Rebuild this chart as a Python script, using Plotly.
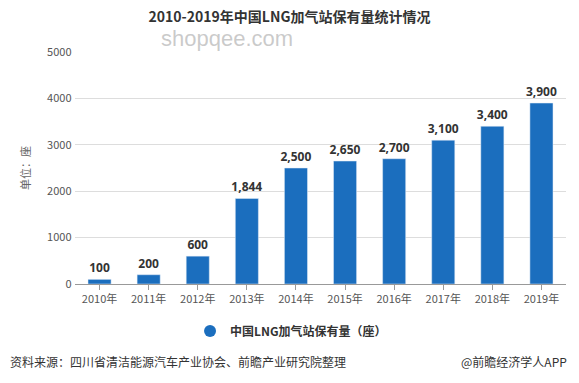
import plotly.graph_objects as go

years = ["2010年", "2011年", "2012年", "2013年", "2014年", "2015年", "2016年", "2017年", "2018年", "2019年"]
stations = [100, 200, 600, 1844, 2500, 2650, 2700, 3100, 3400, 3900]
series_name = "<b>中国LNG加气站保有量（座）</b>"
title_text = "2010-2019年中国LNG加气站保有量统计情况"
y_title = "单位：座"
source_text = "资料来源：四川省清洁能源汽车产业协会、前瞻产业研究院整理"
brand_text = "@前瞻经济学人APP"

FONT = "Noto Sans CJK SC, Microsoft YaHei, sans-serif"
BAR = "#1b6ebe"

fig = go.Figure()
fig.add_trace(go.Bar(
    x=years, y=stations, marker_color=BAR, showlegend=False,
    text=[f"{v:,}" for v in stations], texttemplate="<b>%{text}</b>",
    textposition="outside", constraintext="none",
    textfont=dict(size=12, color="#333333", family="Open Sans, " + FONT),
    cliponaxis=False, width=0.47,
))
fig.add_trace(go.Scatter(
    x=[None], y=[None], mode="markers", name=series_name,
    marker=dict(symbol="circle", size=11, color=BAR),
))

fig.update_layout(
    width=579, height=383,
    margin=dict(l=75, r=13, t=52, b=99),
    paper_bgcolor="white", plot_bgcolor="white",
    font=dict(family=FONT, color="#555555", size=11),
    title=dict(text="<b>" + title_text + "</b>", x=0.5, xanchor="center", y=0.955, yanchor="middle",
               font=dict(size=14, color="#333333", family=FONT)),
    xaxis=dict(showgrid=False, showline=True, linecolor="#999999", linewidth=1,
               ticks="outside", ticklen=5, tickcolor="#999999",
               tickfont=dict(size=11, color="#555555")),
    yaxis=dict(range=[0, 5000], dtick=1000, showgrid=True, gridcolor="#dddddd",
               zeroline=False, showline=False, tickformat="d", ticksuffix=" ",
               tickfont=dict(size=11, color="#555555"),
               title=dict(text=y_title, font=dict(size=11, color="#666666"), standoff=14)),
    legend=dict(orientation="h", x=0.44, xanchor="center", y=-0.203, yanchor="middle",
                font=dict(size=12, color="#333333"), itemsizing="constant"),
    bargap=0.53,
)

fig.add_annotation(text="shopqee.com", xref="paper", yref="paper", x=0.31, y=1.06,
                   showarrow=False, font=dict(size=22, color="rgba(150,150,150,0.5)", family="Liberation Sans, Arial"),
                   xanchor="center", yanchor="middle")
fig.add_annotation(text=source_text, xref="paper", yref="paper", x=-0.137, y=-0.333,
                   xanchor="left", yanchor="middle", showarrow=False,
                   font=dict(size=12, color="#333333"))
fig.add_annotation(text=brand_text, xref="paper", yref="paper", x=1.006, y=-0.333,
                   xanchor="right", yanchor="middle", showarrow=False,
                   font=dict(size=12, color="#333333"))

fig.write_html("out.html", config={"displayModeBar": False},
               post_script="document.body.style.margin='0';document.body.style.overflow='hidden';")
